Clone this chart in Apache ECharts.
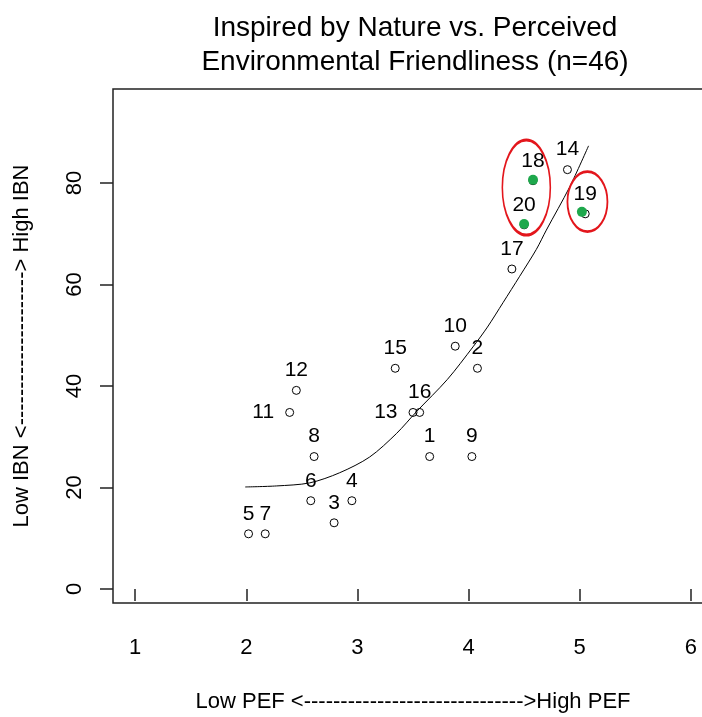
<!DOCTYPE html>
<html>
<head>
<meta charset="utf-8">
<title>Inspired by Nature vs. Perceived Environmental Friendliness</title>
<script src="https://cdn.jsdelivr.net/npm/echarts@6/dist/echarts.min.js"></script>
<style>
  html, body { margin: 0; padding: 0; background: #fff; }
  #main { width: 702px; height: 717px; }
</style>
</head>
<body>
<div id="main"></div>
<script>
/*------------- data -------------*/
var pointLabels = ['1','2','3','4','5','6','7','8','9','10','11','12','13','14','15','16','17','18','19','20'];
var pefValues  = [3.65, 4.08, 2.79, 2.95, 2.02, 2.58, 2.17, 2.61, 4.03, 3.88, 2.39, 2.45, 3.50, 4.89, 3.34, 3.56, 4.39, 4.58, 5.05, 4.50];
var ibnValues  = [26.09, 43.48, 13.04, 17.39, 10.87, 17.39, 10.87, 26.09, 26.09, 47.83, 34.78, 39.13, 34.78, 82.61, 43.48, 34.78, 63.04, 80.43, 73.91, 71.74];

// green highlighted respondents (18, 20, 19)
var highlightX = [4.58, 4.50, 5.02];
var highlightY = [80.6, 71.9, 74.3];

// fitted curve
var curveX = [1.99, 2.27, 2.57, 2.84, 3.11, 3.35, 3.53, 3.81, 4.04, 4.17, 4.31, 4.46, 4.61, 4.70, 4.91, 5.08];
var curveY = [20.1, 20.3, 20.9, 22.9, 26.0, 30.6, 34.9, 41.3, 47.7, 51.6, 56.4, 61.6, 66.9, 70.7, 79.2, 87.3];

// red ellipse centres
var ellipseX = [4.52, 5.07];
var ellipseY = [79.1, 76.3];

var xTicks = [1, 2, 3, 4, 5, 6];
var yTicks = [0, 20, 40, 60, 80];

/*------------- style helpers -------------*/
var leftLabels = ['11', '13'];          // labels written to the left of the point
var ellipseSizes = [[48, 95], [40, 60]];
var FONT = '"Liberation Sans", Arial, sans-serif';

var points = [];
for (var i = 0; i < pointLabels.length; i++) {
    var isLeft = leftLabels.indexOf(pointLabels[i]) >= 0;
    points.push({
        value: [pefValues[i], ibnValues[i]],
        name: pointLabels[i],
        label: {
            position: isLeft ? 'left' : 'top',
            distance: isLeft ? 11 : 5
        }
    });
}
var greenPts = [];
for (var j = 0; j < highlightX.length; j++) {
    greenPts.push([highlightX[j], highlightY[j]]);
}
var curve = [];
for (var k = 0; k < curveX.length; k++) {
    curve.push([curveX[k], curveY[k]]);
}
var ellipses = [];
for (var e = 0; e < ellipseX.length; e++) {
    ellipses.push({ value: [ellipseX[e], ellipseY[e]], symbolSize: ellipseSizes[e] });
}

var option = {
    backgroundColor: '#fff',
    animation: false,
    title: {
        text: 'Inspired by Nature vs. Perceived\nEnvironmental Friendliness (n=46)',
        left: 410,
        top: 6,
        textAlign: 'center',
        textStyle: {
            fontFamily: FONT,
            fontSize: 28,
            fontWeight: 'normal',
            color: '#000',
            lineHeight: 34
        }
    },
    grid: {
        left: 113,
        top: 89,
        right: -11,
        bottom: 114,
        show: true,
        borderColor: '#222',
        borderWidth: 1.5,
        containLabel: false,
        outerBoundsMode: 'none'
    },
    xAxis: {
        type: 'value',
        min: 0.8,
        max: 6.2,
        name: 'Low PEF <------------------------------>High PEF',
        nameLocation: 'middle',
        nameGap: 88,
        nameTextStyle: { fontFamily: FONT, fontSize: 22, color: '#000' },
        axisLine: { show: false },
        splitLine: { show: false },
        axisTick: {
            show: true,
            length: 12,
            customValues: xTicks,
            lineStyle: { color: '#222', width: 1.5 }
        },
        axisLabel: {
            customValues: xTicks,
            margin: 34,
            fontFamily: FONT,
            fontSize: 22,
            color: '#000'
        }
    },
    yAxis: {
        type: 'value',
        min: -2.76,
        max: 98.5,
        name: 'Low IBN <---------------------> High IBN',
        nameLocation: 'middle',
        nameGap: 80,
        nameRotate: 90,
        nameTextStyle: { fontFamily: FONT, fontSize: 22, color: '#000' },
        axisLine: { show: false },
        splitLine: { show: false },
        axisTick: {
            show: true,
            length: 13,
            customValues: yTicks,
            lineStyle: { color: '#222', width: 1.5 }
        },
        axisLabel: {
            customValues: yTicks,
            rotate: 90,
            margin: 27,
            fontFamily: FONT,
            fontSize: 22,
            color: '#000'
        }
    },
    series: [
        {
            name: 'fit',
            type: 'line',
            data: curve,
            smooth: 0.3,
            showSymbol: false,
            lineStyle: { color: '#000', width: 1 },
            z: 2
        },
        {
            name: 'respondents',
            type: 'scatter',
            data: points,
            symbol: 'circle',
            symbolSize: 8,
            itemStyle: { color: 'rgba(0,0,0,0)', borderColor: '#000', borderWidth: 1, opacity: 1 },
            label: {
                show: true,
                formatter: '{b}',
                fontFamily: FONT,
                fontSize: 21,
                color: '#000',
                opacity: 1,
                textBorderWidth: 0
            },
            z: 3
        },
        {
            name: 'highlight',
            type: 'scatter',
            data: greenPts,
            symbol: 'circle',
            symbolSize: 10,
            itemStyle: { color: '#1ea84c', opacity: 1 },
            z: 4
        },
        {
            name: 'ellipses',
            type: 'scatter',
            data: ellipses,
            symbol: 'circle',
            itemStyle: { color: 'rgba(0,0,0,0)', borderColor: '#e3161c', borderWidth: 2.2, opacity: 1 },
            z: 5
        }
    ]
};

var myChart = echarts.init(document.getElementById('main'));
myChart.setOption(option);
</script>
</body>
</html>
